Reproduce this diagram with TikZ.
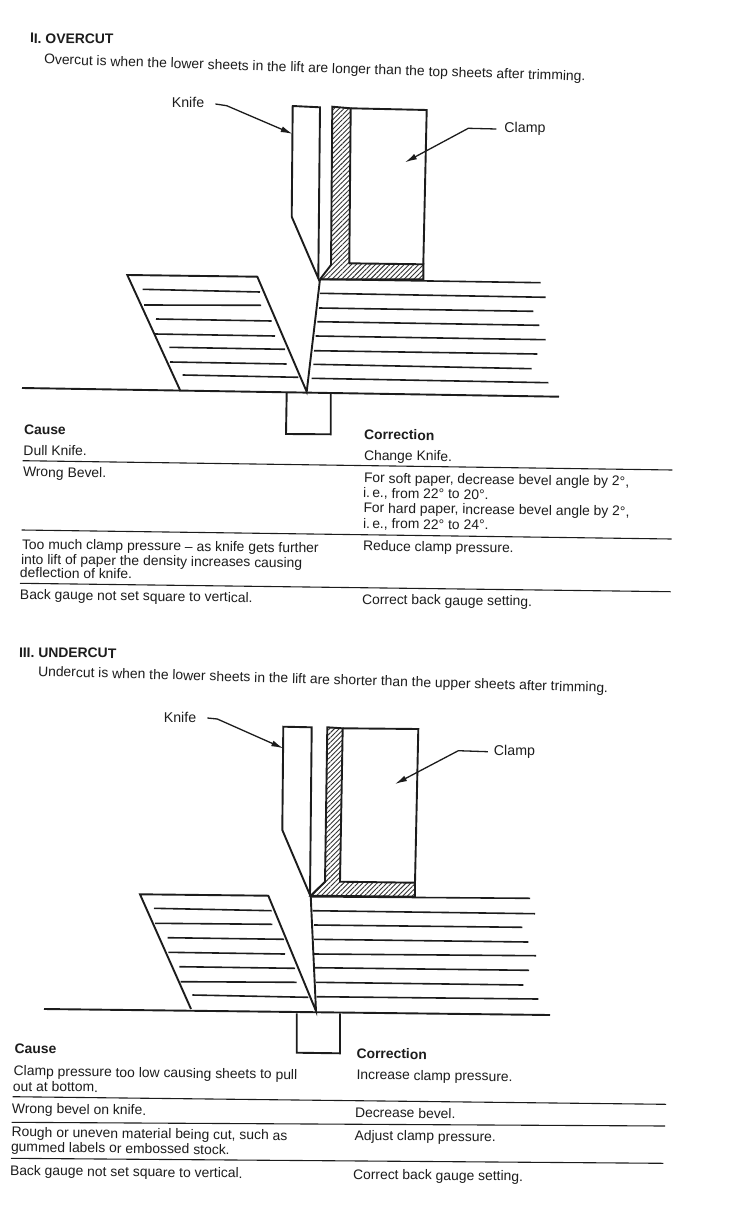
\documentclass[tikz,border=0pt]{standalone}
\usepackage{fontspec}
\setmainfont{Liberation Sans}
\usetikzlibrary{arrows.meta,patterns.meta}
\definecolor{Ink}{HTML}{1C1C1C}
\definecolor{Hatch}{HTML}{333333}
\tikzset{
  outline/.style={Ink,line width=1.9pt,line join=miter},
  sheet/.style={Ink,line width=1.6pt},
  rulerline/.style={Ink,line width=1.1pt},
  pointer/.style={Ink,line width=1.3pt,-{Latex[length=12pt,width=6pt]}},
  hatched/.style={pattern={Lines[angle=45,distance=3.4pt,line width=0.9pt]},pattern color=Hatch},
  txt/.style={anchor=base west,inner sep=0pt,outer sep=0pt,text=Ink,font=\fontsize{13.9}{16}\selectfont,rotate=-0.75},
  head/.style={txt,font=\fontsize{13.9}{16}\selectfont\bfseries},
  partlabel/.style={inner sep=0pt,text=Ink,font=\fontsize{14.2}{16}\selectfont}
}
\begin{document}
\begin{tikzpicture}[x=1pt,y=-1pt]
  \useasboundingbox (0,0) rectangle (746,1217);

  \node[head,rotate=0.1] (titleover) at (30,43) {II. OVERCUT};
  \node[txt,rotate=-1.05] (introover) at (44,64) {Overcut is when the lower sheets in the lift are longer than the top sheets after trimming.};

  \draw[outline] (292.7,106) -- (320,107.3) -- (318.3,278.3) -- (291.7,216.7) -- cycle;
  \draw[outline,hatched] (332.3,106.7) -- (350.7,108.3) -- (349.3,263.3) -- (423.3,264.3) -- (423.3,279.3) -- (320,279.3) -- (331,265) -- cycle;
  \draw[outline] (350.7,108.3) -- (426.7,110) -- (423.3,264.3);
  \foreach \ax/\ay/\bx/\by in {320/279.3/540.7/282.7,320/293.3/545.7/297.3,319/308/533.3/311.3,317.3/321.7/539.3/325.3,315.7/336/545.7/339.7,314/350.7/537.3/354,313.3/364.3/531.7/368.7,311.7/378.3/548.3/382.7}
    \draw[sheet] (\ax,\ay) -- (\bx,\by);
  \foreach \ax/\ay/\bx/\by in {142.7/289.3/260/292,144/305/261/305.3,156/319/271.7/321,155/334/275/336,169.3/347.3/285/349.3,170/362/286.7/364,182.7/375/298.3/377.3}
    \draw[sheet] (\ax,\ay) -- (\bx,\by);
  \draw[outline] (180,390) -- (127.3,275) -- (257.3,276.7) -- (306.7,391.7) -- (320,279.3);
  \draw[outline] (22,388) -- (559,396.7);
  \draw[outline] (286.7,392.7) -- (286,434) -- (330.7,434.3) -- (330.7,393);

  \node[partlabel] (knifeover) at (188,102) {Knife};
  \node[partlabel] (clampover) at (525,129) {Clamp};
  \coordinate (kniferefover) at (292.7,134);
  \coordinate (clamprefover) at (405,162.3);
  \draw[pointer] (knifeover.east)++(11,2) -- (226.7,105.7) -- (kniferefover);
  \draw[pointer] (clampover.west)++(-8,0) -- (468.3,128.3) -- (clamprefover);

  \node[head] (causeover) at (24,434) {Cause};
  \node[txt] at (23.5,455) {Dull Knife.};
  \node[txt] at (23,476.7) {Wrong Bevel.};
  \node[txt] at (22,549) {Too much clamp pressure -- as knife gets further};
  \node[txt] at (21,564) {into lift of paper the density increases causing};
  \node[txt] at (20,577.5) {deflection of knife.};
  \node[txt] at (20,599.3) {Back gauge not set square to vertical.};
  \node[head] (corrover) at (364,439.3) {Correction};
  \node[txt] at (364,460) {Change Knife.};
  \node[txt] at (364,482.7) {For soft paper, decrease bevel angle by 2°,};
  \node[txt] at (363,497.7) {i.\,e., from 22° to 20°.};
  \node[txt] at (363.5,512.7) {For hard paper, increase bevel angle by 2°,};
  \node[txt] at (363,528.3) {i.\,e., from 22° to 24°.};
  \node[txt] at (363,550.7) {Reduce clamp pressure.};
  \node[txt] at (362,604) {Correct back gauge setting.};
  \draw[rulerline] (22.7,460.7) -- (672.3,470);
  \draw[rulerline] (21.7,530) -- (671.7,539);
  \draw[rulerline] (20,583.3) -- (670.7,591.7);

  \node[head,rotate=0.1] (titleunder) at (19,657) {III. UNDERCUT};
  \node[txt,rotate=-0.9] (introunder) at (38,676) {Undercut is when the lower sheets in the lift are shorter than the upper sheets after trimming.};

  \draw[outline] (283.3,726.7) -- (311.7,727.3) -- (310,895) -- (282.3,830) -- cycle;
  \draw[outline,hatched] (327.3,727.3) -- (342.7,728.3) -- (340,881.7) -- (415,882.7) -- (415,896.7) -- (310.7,895.7) -- (325,881.7) -- cycle;
  \draw[outline] (342.7,728.3) -- (418.3,729) -- (415,882.7);
  \foreach \ax/\ay/\bx/\by in {310.7/896.7/530/898.3,312.7/910.7/535/913.7,314/925/522.3/927.3,314/939.3/528.3/942,314/954/536/955.7,315/967.7/529/970.3,316/982.3/523.3/985,316.7/996.7/538.3/999}
    \draw[sheet] (\ax,\ay) -- (\bx,\by);
  \foreach \ax/\ay/\bx/\by in {154/908.3/271.7/910.7,155/923.3/272.3/924.3,167.7/937.7/284/939.3,168.3/952.3/285/954,179.3/966.7/295/968.3,180.7/981.7/296.7/982.3,192.3/995/308.3/997.3}
    \draw[sheet] (\ax,\ay) -- (\bx,\by);
  \draw[outline] (191,1009) -- (140,894.3) -- (268.3,895.7) -- (316,1011) -- (310.7,895.7);
  \draw[outline] (44,1009) -- (550,1015);
  \draw[outline] (296.7,1013.3) -- (296.7,1052.7) -- (340,1053.3) -- (340,1013.3);

  \node[partlabel] (knifeunder) at (180,717) {Knife};
  \node[partlabel] (clampunder) at (514.5,751.7) {Clamp};
  \coordinate (kniferefunder) at (283.3,748.3);
  \coordinate (clamprefunder) at (395,784);
  \draw[pointer] (knifeunder.east)++(11,1) -- (217.3,719) -- (kniferefunder);
  \draw[pointer] (clampunder.west)++(-6,0) -- (458.3,750.7) -- (clamprefunder);

  \node[head] (causeunder) at (14.7,1053.3) {Cause};
  \node[txt] at (13.7,1075.7) {Clamp pressure too low causing sheets to pull};
  \node[txt] at (13,1091) {out at bottom.};
  \node[txt] at (12,1113.3) {Wrong bevel on knife.};
  \node[txt] at (11.5,1136.7) {Rough or uneven material being cut, such as};
  \node[txt] at (11,1151.7) {gummed labels or embossed stock.};
  \node[txt] at (10,1175) {Back gauge not set square to vertical.};
  \node[head] (corrunder) at (356.5,1058.3) {Correction};
  \node[txt] at (356.5,1079.3) {Increase clamp pressure.};
  \node[txt] at (355,1117.3) {Decrease bevel.};
  \node[txt] at (354.5,1140) {Adjust clamp pressure.};
  \node[txt] at (353,1179) {Correct back gauge setting.};
  \draw[rulerline] (12.7,1096.7) -- (666,1104.3);
  \draw[rulerline] (11.7,1122.3) -- (665,1126);
  \draw[rulerline] (11,1158.3) -- (663.3,1163.3);
\end{tikzpicture}
\end{document}
